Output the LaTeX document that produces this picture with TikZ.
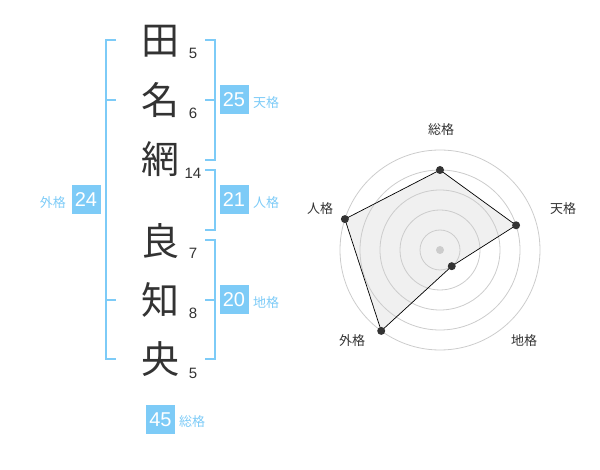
\documentclass[tikz,border=0pt]{standalone}
\usepackage{fontspec}
\setmainfont{Liberation Sans}
\newfontfamily\jpfont{Noto Sans CJK JP}
\definecolor{kakuBlue}{RGB}{125,203,247}
\definecolor{inkGray}{RGB}{51,51,51}
\definecolor{ringGray}{RGB}{204,204,204}
\tikzset{
  kanji/.style={text=inkGray,inner sep=0pt,font=\jpfont\fontsize{38}{38}\selectfont},
  strokes/.style={text=inkGray,inner sep=0pt,font=\fontsize{15}{15}\selectfont},
  kakubox/.style={fill=kakuBlue,text=white,inner sep=0pt,minimum width=29pt,minimum height=29pt,font=\fontsize{20}{20}\selectfont},
  kakulabel/.style={text=kakuBlue,inner sep=0pt,font=\jpfont\fontsize{13}{13}\selectfont},
  axislabel/.style={text=inkGray,inner sep=0pt,font=\jpfont\fontsize{13}{13}\selectfont},
  bracket/.style={draw=kakuBlue,line width=2pt},
  ring/.style={draw=ringGray,line width=0.8pt},
}
\begin{document}
\begin{tikzpicture}[x=1pt,y=1pt,yscale=-1,xscale=1]
\path[use as bounding box] (0,0) rectangle (600,470);

%Name characters
\node[kanji] (k1) at (160,41) {田};
\node[kanji] (k2) at (160,100) {名};
\node[kanji] (k3) at (160,159) {網};
\node[kanji] (k4) at (160,241) {良};
\node[kanji] (k5) at (160,300) {知};
\node[kanji] (k6) at (160,359) {央};
%Stroke counts
\node[strokes] (s1) at (193,53) {5};
\node[strokes] (s2) at (193,113) {6};
\node[strokes] (s3) at (193,173) {14};
\node[strokes] (s4) at (193,253) {7};
\node[strokes] (s5) at (193,313) {8};
\node[strokes] (s6) at (193,373) {5};

%Bracket: gaikaku
\draw[bracket] (116,40) -- (106,40) -- (106,359) -- (116,359);
\draw[bracket] (106,100) -- (116,100);
\draw[bracket] (106,300) -- (116,300);
%Bracket: tenkaku
\draw[bracket] (205,40) -- (215,40) -- (215,160) -- (205,160);
\draw[bracket] (215,100) -- (205,100);
%Bracket: jinkaku
\draw[bracket] (205,170) -- (215,170) -- (215,230) -- (205,230);
%Bracket: chikaku
\draw[bracket] (205,240) -- (215,240) -- (215,359) -- (205,359);
\draw[bracket] (215,300) -- (205,300);

%Score boxes
\node[kakubox] (tenBox) at (234,100) {25};
\node[kakulabel,anchor=west] (tenLbl) at (253,103) {天格};
\node[kakubox] (jinBox) at (234,200) {21};
\node[kakulabel,anchor=west] (jinLbl) at (253,203) {人格};
\node[kakubox] (chiBox) at (234,300) {20};
\node[kakulabel,anchor=west] (chiLbl) at (253,303) {地格};
\node[kakubox] (gaiBox) at (86,200) {24};
\node[kakulabel,anchor=east] (gaiLbl) at (66,203) {外格};
\node[kakubox] (souBox) at (160.5,419.5) {45};
\node[kakulabel,anchor=west] (souLbl) at (179,422) {総格};

%Radar chart
\coordinate (ctr) at (440,250);
\path (ctr) ++(-90:80) coordinate (pSou);
\path (ctr) ++(-18:80) coordinate (pTen);
\path (ctr) ++(54:20) coordinate (pChi);
\path (ctr) ++(126:100) coordinate (pGai);
\path (ctr) ++(-162:100) coordinate (pJin);
\fill[black!6] (pSou) -- (pTen) -- (pChi) -- (pGai) -- (pJin) -- cycle;
\foreach \r in {20,40,60,80,100}
  \draw[ring] (ctr) circle (\r pt);
\fill[ringGray] (ctr) circle (4pt);
\draw[black,line width=0.7pt] (pSou) -- (pTen) -- (pChi) -- (pGai) -- (pJin) -- cycle;
\foreach \p in {pSou,pTen,pChi,pGai,pJin}
  \fill[inkGray] (\p) circle (4pt);
%Axis labels
\node[axislabel] (aSou) at (441,130) {総格};
\node[axislabel] (aTen) at (563,209) {天格};
\node[axislabel] (aChi) at (524,341) {地格};
\node[axislabel] (aGai) at (352,341) {外格};
\node[axislabel] (aJin) at (320,209) {人格};

\end{tikzpicture}
\end{document}
